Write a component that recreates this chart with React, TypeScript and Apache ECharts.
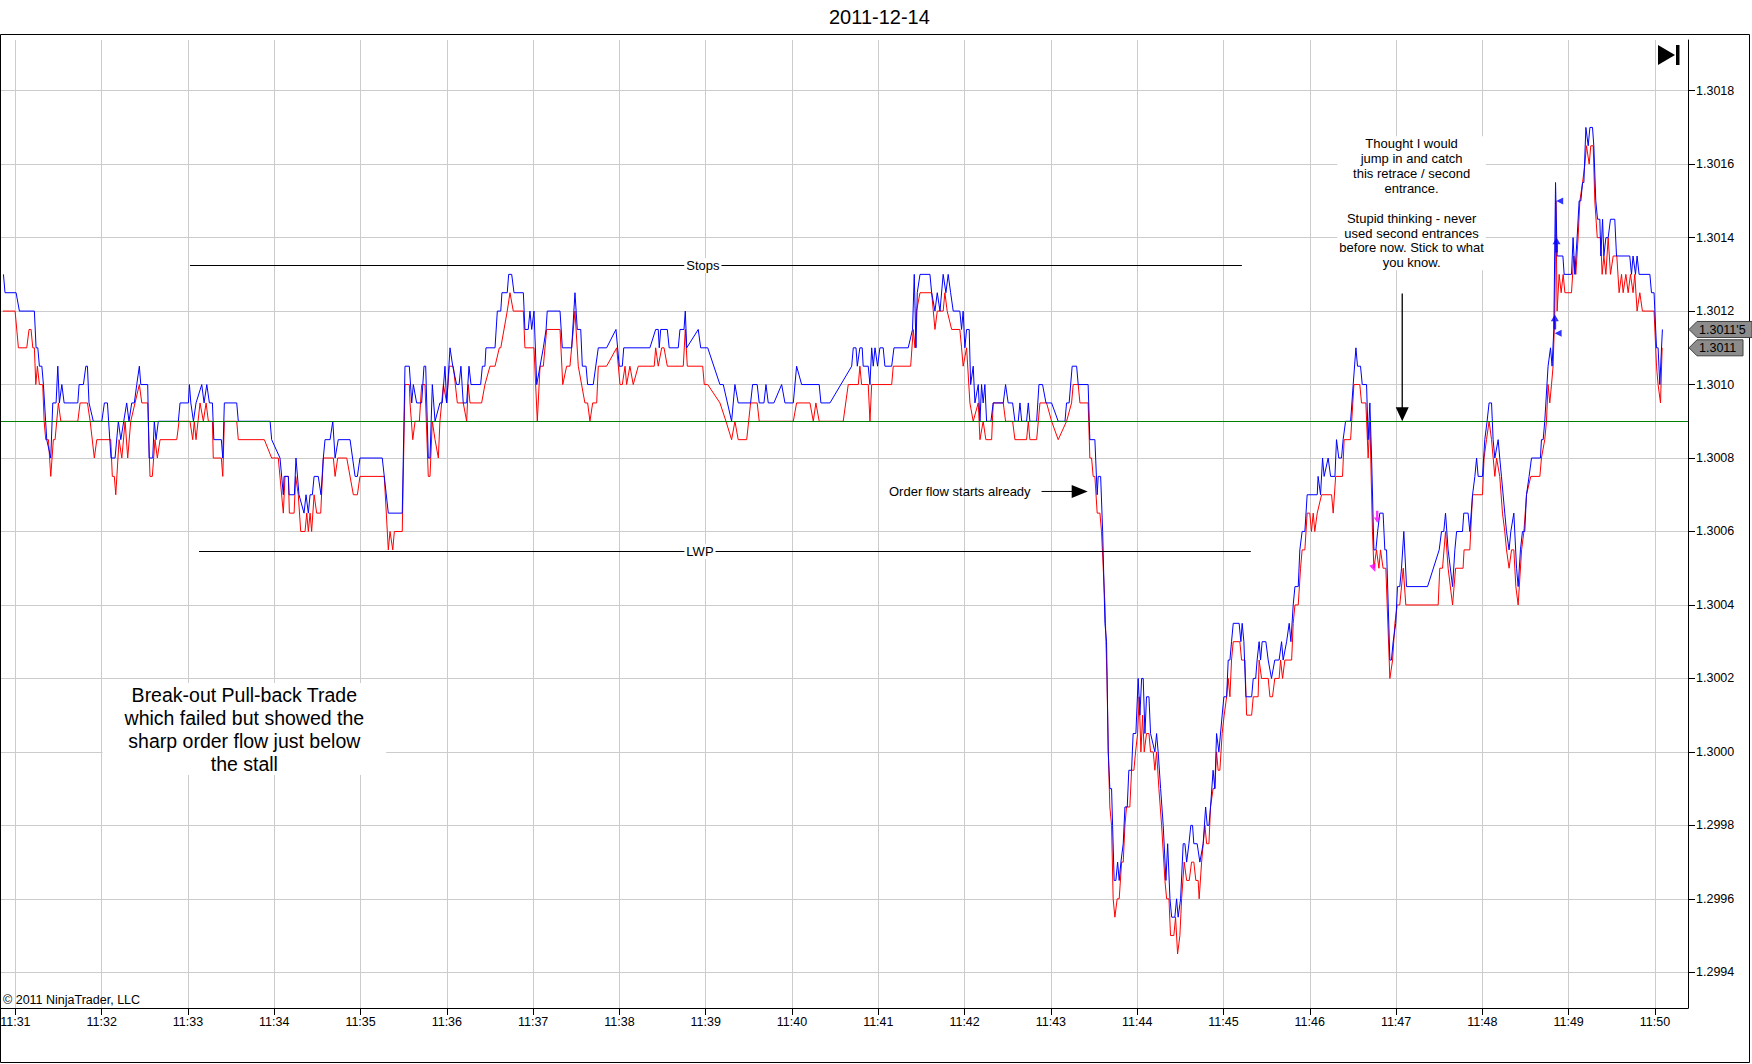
import React, { useEffect, useRef } from "react";
import * as echarts from "echarts";

// ---- axes ----
const X_MIN = -10; // seconds from 11:31:00
const X_MAX = 1163;
const Y_MIN = 1.2993028;
const Y_MAX = 1.301938;
const timeTicks = [0, 60, 120, 180, 240, 300, 360, 420, 480, 540, 600, 660, 720, 780, 840, 900, 960, 1020, 1080, 1140];
const timeLabels = ["11:31", "11:32", "11:33", "11:34", "11:35", "11:36", "11:37", "11:38", "11:39", "11:40", "11:41", "11:42", "11:43", "11:44", "11:45", "11:46", "11:47", "11:48", "11:49", "11:50"];
const priceTicks = [1.2994, 1.2996, 1.2998, 1.3, 1.3002, 1.3004, 1.3006, 1.3008, 1.301, 1.3012, 1.3014, 1.3016, 1.3018];

// ---- ask (blue) [seconds from 11:31:00, price] ----
const askA = [[-8.3,1.3013],[-7.2,1.30125],[0.5,1.30125],[2.8,1.3012],[13.2,1.3012],[14.4,1.3011],[15.6,1.3011],[16.7,1.30105],[18.4,1.30105],[19.5,1.301],[21.8,1.30085],[24.6,1.3008],[26.0,1.30095],[28.3,1.30095],[29.5,1.30105],[30.6,1.30095],[32.3,1.301],[33.9,1.30095],[43.4,1.30095],[44.3,1.301],[47.3,1.301],[49.0,1.30105],[50.1,1.30105],[51.2,1.30095],[54.2,1.3009],[60.1,1.3009],[61.9,1.30095],[64.0,1.30095],[66.5,1.3008],[69.3,1.3008],[71.6,1.3009],[73.3,1.30085],[77.4,1.30095],[79.0,1.3009],[80.9,1.30095],[82.7,1.30095],[84.4,1.301],[86.2,1.30105],[87.2,1.301],[92.0,1.301],[93.0,1.3008],[95.5,1.3008],[96.6,1.3009],[97.8,1.30085],[99.4,1.3009],[113.3,1.3009],[114.5,1.30095],[120.3,1.30095],[121.0,1.301],[122.0,1.30095],[123.8,1.3009],[125.6,1.30095],[129.6,1.301],[131.2,1.30095],[133.1,1.301],[134.9,1.30095],[137.0,1.30095],[138.0,1.30085],[143.2,1.30085],[144.2,1.3008],[145.3,1.30095],[153.9,1.30095],[155.0,1.3009],[177.1,1.3009],[178.2,1.30085],[184.0,1.3008],[186.3,1.3007],[186.8,1.30075],[189.8,1.30075],[190.3,1.3007],[194.0,1.3007],[195.1,1.3008],[197.2,1.3007],[200.7,1.30065],[202.1,1.3007],[203.7,1.30065],[204.9,1.3007],[206.5,1.3007],[207.7,1.30075],[210.6,1.30075],[212.5,1.3007],[214.1,1.3008],[215.3,1.30085],[218.8,1.30085],[220.7,1.3009],[222.3,1.3008],[224.5,1.30085],[232.7,1.30085],[236.2,1.30075],[237.8,1.30075],[239.6,1.3008],[255.1,1.3008],[259.3,1.30065],[269.0,1.30065],[270.9,1.30105],[273.9,1.30105]];
const askB = [[275.6,1.30095],[276.7,1.301],[279.0,1.30095],[282.5,1.30095],[284.1,1.30105],[285.3,1.30105],[287.1,1.3008],[288.3,1.3008],[289.9,1.301],[291.8,1.3009],[295.2,1.30095],[296.8,1.30095],[298.7,1.30105],[299.9,1.30095],[302.2,1.3011],[304.1,1.30105],[306.8,1.301],[308.5,1.301],[309.8,1.30105],[311.4,1.30095],[313.8,1.30095],[315.4,1.30105],[316.8,1.301],[323.5,1.301],[324.7,1.30105],[326.5,1.30105],[327.2,1.3011],[333.5,1.3011],[335.1,1.3012],[337.5,1.3012],[338.3,1.30125],[342.0,1.30125],[343.0,1.3013],[345.1,1.3013],[346.7,1.30125],[353.2,1.30125],[354.3,1.30115],[356.6,1.30115],[357.8,1.3012],[359.0,1.30115],[360.6,1.3012],[362.5,1.301],[364.8,1.30105],[367.1,1.3011],[369.0,1.30115],[369.8,1.3012],[378.7,1.3012],[380.3,1.3011],[386.8,1.3011],[389.1,1.30125],[390.7,1.30115],[393.1,1.30115],[394.2,1.30105],[396.8,1.30105],[397.9,1.301],[401.8,1.301],[405.3,1.3011],[411.1,1.3011],[417.6,1.30115],[419.9,1.30105],[422.0,1.30105],[423.0,1.3011],[441.2,1.3011],[445.2,1.30115],[447.0,1.30115],[447.7,1.3011],[448.7,1.30115],[453.3,1.30115],[454.6,1.3011],[460.9,1.3011],[462.1,1.30115],[464.9,1.30115],[465.8,1.3012],[466.8,1.3011],[474.8,1.30115],[476.5,1.3011],[481.4,1.3011],[489.9,1.301],[492.2,1.301],[498.0,1.3009],[500.3,1.301],[502.6,1.30095],[511.2,1.30095],[512.6,1.301],[515.8,1.301],[517.2,1.30095],[520.5,1.30095],[521.9,1.301],[523.5,1.30095],[527.4,1.30095],[532.8,1.301],[535.1,1.30095],[540.9,1.30095],[543.2,1.30105],[546.7,1.301],[558.9,1.301],[560.1,1.30095]];
const askC = [[566.4,1.30095],[581.5,1.30105],[582.6,1.3011],[584.5,1.3011],[585.4,1.30105],[587.2,1.3011],[588.8,1.3011],[589.5,1.30105],[593.0,1.30105],[594.2,1.301],[595.4,1.3011],[596.5,1.30105],[597.7,1.3011],[599.5,1.30105],[601.1,1.3011],[603.4,1.3011],[604.6,1.30105],[609.3,1.30105],[610.9,1.3011],[620.8,1.3011],[623.8,1.30115],[625.0,1.3013],[626.2,1.3011],[627.1,1.30125],[629.0,1.3013],[635.9,1.3013],[637.1,1.30125],[639.4,1.3012],[641.0,1.30125],[642.9,1.3012],[645.1,1.3013],[647.0,1.30125],[648.6,1.3013],[650.3,1.30125],[652.1,1.3012],[656.7,1.3012],[657.9,1.30115],[659.0,1.3012],[660.2,1.3011],[661.4,1.30115],[663.2,1.30115],[664.2,1.301],[666.0,1.30105],[667.2,1.30095],[669.5,1.301],[670.7,1.3009],[671.8,1.301],[672.9,1.30095],[674.1,1.301],[675.3,1.3009],[678.3,1.3009],[679.9,1.30095],[686.9,1.30095],[688.5,1.301],[690.3,1.30095],[693.4,1.30095],[695.0,1.3009],[697.3,1.3009],[698.5,1.30095],[699.7,1.3009],[703.1,1.3009],[704.3,1.30095],[705.4,1.3009],[710.1,1.3009],[711.7,1.301],[714.2,1.301],[716.6,1.30095],[720.5,1.30095],[725.1,1.3009],[729.8,1.3009],[730.9,1.30095],[732.7,1.30095],[734.8,1.30105],[737.9,1.30105],[739.0,1.301],[745.9,1.301],[747.1,1.30085],[750.6,1.30085],[752.2,1.3007],[752.9,1.30075],[754.6,1.30075],[756.0,1.3006]];
const askD = [[757.6,1.30035],[758.7,1.3003],[759.9,1.3],[761.0,1.2999],[762.2,1.2999],[762.9,1.2998],[764.0,1.29965],[765.2,1.29965],[766.4,1.2997],[767.5,1.29965],[768.7,1.2997],[770.3,1.29975],[771.5,1.29985],[773.1,1.29985],[774.2,1.29995],[776.1,1.29995],[777.2,1.30005],[779.1,1.30005],[780.7,1.3002],[781.9,1.3001],[783.1,1.3002],[784.2,1.3002],[785.4,1.30005],[786.5,1.30015],[788.2,1.30015],[789.3,1.30005],[792.3,1.3],[793.5,1.30005],[794.6,1.3],[796.3,1.2999],[798.1,1.2998],[800.0,1.29965],[801.2,1.29975],[802.8,1.2996],[804.0,1.29955],[806.2,1.29955],[807.4,1.2996],[808.5,1.29955],[810.2,1.2996],[812.0,1.29975],[813.2,1.29975],[814.4,1.2997],[816.0,1.29975],[817.3,1.2998],[818.5,1.2998],[819.4,1.29975],[821.7,1.29975],[823.6,1.2997],[825.9,1.29975],[827.6,1.29985],[828.7,1.2998],[829.9,1.2998],[831.0,1.29985],[832.8,1.29995],[834.0,1.2999],[835.2,1.30005],[836.8,1.3],[839.1,1.3001],[840.3,1.30015],[842.2,1.30015],[843.3,1.30025],[844.5,1.30025],[845.6,1.3003],[846.8,1.30035],[850.9,1.30035],[852.1,1.3003],[853.0,1.30035],[854.2,1.3003],[855.6,1.30015],[859.6,1.30015],[860.7,1.3002],[862.4,1.3002],[863.4,1.30025],[864.8,1.3003],[865.8,1.30025],[866.9,1.3003],[869.5,1.3003],[871.1,1.30025],[873.4,1.3002],[875.7,1.30025],[878.7,1.30025],[880.4,1.3003],[881.5,1.30025],[883.9,1.3003],[885.7,1.30035],[886.9,1.3003],[888.5,1.3004],[889.7,1.30045],[892.0,1.30045],[893.1,1.30055],[894.7,1.3006],[896.6,1.3006]];
const askE = [[898.2,1.3007],[905.2,1.3007],[905.8,1.30075],[907.5,1.3007],[908.9,1.3008],[910.0,1.30075],[912.8,1.3008],[914.5,1.30075],[917.5,1.30075],[918.6,1.30085],[920.2,1.3008],[922.1,1.3008],[923.2,1.30085],[924.9,1.3009],[928.4,1.3009],[930.2,1.301],[932.1,1.3011],[933.2,1.30105],[935.3,1.30105],[936.5,1.301],[939.5,1.301],[940.6,1.30085],[941.8,1.30095],[943.0,1.3008],[944.6,1.30055],[946.0,1.30055],[947.2,1.3006],[948.7,1.30065],[951.0,1.30065],[952.2,1.30055],[953.4,1.30055],[955.7,1.30025],[956.8,1.30025],[958.0,1.3003],[959.8,1.30035],[961.0,1.30045],[962.6,1.30045],[963.8,1.3005],[965.4,1.3006],[967.3,1.30045],[981.9,1.30045],[990.0,1.30055],[991.6,1.3006],[993.2,1.3006],[994.4,1.30065],[996.2,1.30055],[999.3,1.30045],[1000.9,1.30055],[1002.1,1.3006],[1006.2,1.3006],[1007.1,1.30065],[1010.1,1.30065],[1011.3,1.3006],[1013.2,1.3007],[1014.8,1.30075],[1016.0,1.3008],[1017.1,1.30075],[1020.1,1.30075],[1021.7,1.30085],[1023.3,1.3009],[1024.7,1.30095],[1026.4,1.30095],[1027.5,1.30085],[1028.7,1.3008],[1031.0,1.30085],[1032.1,1.3008],[1033.3,1.30075],[1035.6,1.30065],[1036.8,1.3006],[1038.6,1.30055],[1039.8,1.3006],[1041.9,1.30065],[1043.8,1.3005],[1044.9,1.30045],[1046.5,1.30055],[1047.9,1.3006],[1049.5,1.3006],[1050.7,1.3007],[1052.5,1.30075],[1054.2,1.3008],[1060.4,1.3008],[1061.1,1.30085],[1062.3,1.30085],[1063.4,1.3009],[1065.7,1.30105]];
const askF = [[1067.4,1.3011],[1068.5,1.30105],[1069.7,1.30115],[1070.9,1.30155],[1072.0,1.30135],[1076.0,1.30135],[1076.9,1.3013],[1082.0,1.3013],[1083.1,1.3014],[1084.3,1.3013],[1085.9,1.3014],[1087.3,1.3015],[1088.5,1.3015],[1089.7,1.30155],[1090.6,1.30155],[1092.0,1.3017],[1093.6,1.30165],[1094.8,1.3017],[1096.6,1.3017],[1097.5,1.30165],[1098.9,1.3015],[1100.1,1.30145],[1101.7,1.30145],[1102.4,1.30135],[1103.6,1.30145],[1104.5,1.30135],[1105.9,1.3014],[1107.5,1.3014],[1109.1,1.30145],[1112.1,1.30145],[1113.3,1.30135],[1122.5,1.30135],[1123.7,1.3013],[1124.8,1.30135],[1126.5,1.3013],[1127.6,1.30135],[1129.0,1.3013],[1136.5,1.3013],[1137.6,1.30125],[1139.4,1.30125],[1141.1,1.3011],[1142.2,1.3011],[1143.4,1.301],[1145.2,1.30115]];

// ---- bid (red) ----
const bidA = [[-8.8,1.3012],[-0.2,1.3012],[2.1,1.3011],[7.9,1.3011],[9.5,1.30115],[10.9,1.30115],[12.1,1.3011],[13.2,1.3011],[14.2,1.301],[15.3,1.30105],[16.7,1.301],[19.0,1.301],[20.0,1.3009],[21.1,1.30085],[23.0,1.30085],[24.6,1.30075],[26.4,1.30085],[27.6,1.30085],[29.9,1.30095],[31.6,1.3009],[43.4,1.3009],[45.0,1.30095],[50.1,1.30095],[52.0,1.3009],[54.9,1.3008],[56.6,1.30085],[66.3,1.30085],[67.4,1.30075],[68.8,1.30075],[69.8,1.3007],[72.1,1.30085],[74.0,1.3008],[76.3,1.3009],[78.1,1.3008],[80.2,1.3009],[83.2,1.30095],[86.2,1.301],[87.9,1.30095],[92.0,1.30095],[93.6,1.30075],[95.2,1.30075],[97.1,1.30085],[98.7,1.3008],[100.6,1.30085],[112.2,1.30085],[113.8,1.3009],[121.4,1.3009],[123.3,1.30085],[124.4,1.3009],[125.6,1.30085],[128.4,1.30095],[130.7,1.3009],[132.6,1.30095],[134.2,1.3009],[137.0,1.3009],[137.6,1.3008],[143.2,1.3008],[144.2,1.30075],[145.3,1.3009],[153.9,1.3009],[155.0,1.30085],[173.1,1.30085],[178.2,1.3008],[182.8,1.3008],[186.3,1.30065],[187.5,1.30075],[189.8,1.30075],[190.5,1.30065],[193.8,1.30065],[194.9,1.30075],[196.7,1.3007],[198.4,1.3006],[201.4,1.3006],[202.6,1.30065],[203.7,1.3006],[204.9,1.30065],[206.0,1.3006],[207.7,1.3007],[209.5,1.30065],[212.3,1.30065],[214.1,1.3008],[221.1,1.3008],[222.3,1.30075],[224.1,1.3008],[230.4,1.3008],[235.0,1.3007],[237.8,1.3007],[239.6,1.30075],[256.5,1.30075],[259.3,1.30055],[260.5,1.3006],[262.4,1.30055],[263.5,1.3006],[269.0,1.3006],[270.9,1.301],[273.9,1.301]];
const bidB = [[274.4,1.30095],[276.3,1.30085],[277.9,1.3009],[280.9,1.3009],[282.5,1.301],[284.8,1.301],[287.1,1.30075],[288.3,1.30075],[289.9,1.3009],[291.8,1.30085],[294.1,1.3008],[295.2,1.3009],[297.6,1.301],[299.9,1.30095],[301.7,1.30105],[304.5,1.30105],[307.3,1.30095],[311.4,1.30095],[313.8,1.3009],[314.9,1.301],[316.1,1.30095],[324.2,1.30095],[326.5,1.301],[330.0,1.30105],[333.5,1.30105],[336.5,1.3011],[337.5,1.3011],[342.0,1.3012],[343.9,1.30125],[346.2,1.3012],[353.2,1.3012],[354.3,1.3011],[360.6,1.3011],[362.9,1.3009],[364.8,1.30105],[367.1,1.30105],[369.4,1.30115],[378.7,1.30115],[380.6,1.301],[383.3,1.30105],[385.6,1.30105],[389.1,1.3012],[391.4,1.30105],[396.0,1.30095],[397.9,1.30095],[399.5,1.3009],[401.4,1.30095],[404.2,1.30095],[405.3,1.30105],[411.1,1.30105],[418.1,1.3011],[420.4,1.301],[422.0,1.301],[423.9,1.30105],[425.0,1.301],[427.3,1.30105],[429.6,1.301],[433.1,1.30105],[444.2,1.30105],[445.2,1.3011],[447.0,1.30105],[449.4,1.3011],[451.0,1.3011],[453.3,1.30105],[464.4,1.30105],[465.8,1.30115],[467.2,1.30105],[477.9,1.30105],[479.0,1.301],[481.4,1.301],[489.9,1.30095],[494.1,1.3009],[498.0,1.30085],[500.3,1.3009],[502.6,1.30085],[508.5,1.30085],[511.2,1.30095],[515.8,1.30095],[517.2,1.3009],[540.9,1.3009],[543.2,1.30095],[552.5,1.30095],[554.8,1.3009],[556.6,1.30095],[558.9,1.3009]];
const bidC = [[575.6,1.3009],[579.1,1.301],[586.1,1.301],[587.2,1.30105],[588.4,1.301],[593.0,1.301],[594.2,1.3009],[595.4,1.301],[609.3,1.301],[610.4,1.30105],[622.5,1.30105],[624.3,1.30115],[625.5,1.3011],[626.6,1.3012],[629.0,1.30125],[637.1,1.30125],[639.4,1.30115],[641.0,1.3012],[645.1,1.3012],[646.3,1.30125],[647.9,1.3012],[651.0,1.30115],[656.7,1.30115],[657.9,1.3011],[659.0,1.30105],[661.4,1.3011],[663.7,1.30095],[666.0,1.3009],[669.5,1.30095],[670.7,1.30085],[672.9,1.3009],[674.8,1.30085],[678.8,1.30085],[679.9,1.30095],[686.9,1.30095],[688.5,1.3009],[693.4,1.3009],[695.0,1.30085],[703.1,1.30085],[704.3,1.3009],[705.4,1.30085],[710.1,1.30085],[712.4,1.30095],[717.0,1.30095],[720.5,1.3009],[725.1,1.30085],[730.9,1.3009],[734.4,1.30095],[735.5,1.301],[739.0,1.301],[740.2,1.30095],[745.9,1.30095],[747.1,1.3008],[748.3,1.3008],[749.4,1.30075],[750.6,1.30075],[752.2,1.30065],[754.1,1.30065],[755.2,1.3006]];
const bidD = [[757.6,1.3004],[759.0,1.3002],[759.9,1.3],[761.0,1.29985],[762.2,1.2998],[763.3,1.2996],[764.5,1.29955],[766.1,1.2996],[767.5,1.2996],[769.2,1.2997],[770.3,1.2997],[771.5,1.2998],[772.6,1.29985],[774.9,1.29985],[776.1,1.29995],[777.7,1.29995],[778.9,1.3],[780.3,1.30005],[781.4,1.30015],[782.6,1.3],[783.8,1.3001],[784.9,1.3],[786.5,1.30005],[788.2,1.30005],[789.3,1.3],[791.2,1.3],[792.3,1.29995],[793.5,1.3],[795.1,1.2999],[797.0,1.2998],[799.3,1.29965],[800.5,1.2996],[802.1,1.2996],[803.2,1.2995],[805.5,1.2995],[806.7,1.29955],[808.1,1.29945],[809.7,1.2995],[810.9,1.2996],[812.7,1.2997],[814.4,1.29965],[816.2,1.29965],[817.8,1.2997],[819.4,1.2997],[820.8,1.29965],[822.4,1.29965],[823.1,1.2996],[824.8,1.2997],[825.9,1.29975],[827.1,1.2998],[828.3,1.29975],[829.9,1.29975],[831.0,1.29985],[832.8,1.2999],[834.0,1.2999],[835.2,1.3],[836.3,1.29995],[837.5,1.29995],[839.1,1.30005],[840.5,1.3001],[842.2,1.30015],[843.3,1.3002],[844.5,1.30015],[845.6,1.30025],[846.8,1.3003],[851.4,1.3003],[852.6,1.30025],[854.9,1.30025],[856.1,1.3001],[859.6,1.3001],[860.7,1.30015],[864.1,1.30015],[864.8,1.30025],[866.5,1.3002],[871.1,1.3002],[872.3,1.30015],[874.1,1.30015],[875.7,1.3002],[878.7,1.3002],[879.7,1.30025],[881.1,1.3002],[882.7,1.30025],[887.4,1.30025],[888.5,1.30035],[889.7,1.3004],[892.0,1.3004],[893.6,1.3005],[894.7,1.30055]];
const bidE = [[896.6,1.30055],[898.2,1.30065],[900.0,1.30065],[901.2,1.3006],[902.4,1.30065],[903.5,1.3006],[905.2,1.30065],[908.2,1.3007],[915.2,1.3007],[916.3,1.30065],[918.0,1.30075],[922.8,1.30075],[923.9,1.30085],[928.4,1.30085],[930.7,1.301],[934.8,1.301],[936.0,1.30095],[939.0,1.30095],[940.6,1.3008],[941.8,1.3009],[943.6,1.3006],[944.6,1.3005],[946.4,1.30055],[948.1,1.3005],[949.2,1.30055],[951.0,1.3005],[952.9,1.3005],[955.7,1.3002],[957.6,1.30025],[959.2,1.30035],[960.8,1.3004],[962.6,1.3004],[965.0,1.3005],[966.8,1.3004],[989.3,1.3004],[990.4,1.3005],[992.3,1.3005],[994.4,1.3006],[996.2,1.3005],[999.3,1.3004],[1001.4,1.3005],[1006.6,1.3005],[1007.3,1.30055],[1011.3,1.30055],[1013.2,1.3007],[1020.1,1.3007],[1021.2,1.3008],[1022.9,1.30085],[1024.7,1.3009],[1026.4,1.30085],[1028.7,1.30075],[1029.9,1.3008],[1032.1,1.30075],[1034.0,1.30065],[1035.6,1.3006],[1036.8,1.30055],[1038.6,1.3005],[1040.3,1.30055],[1041.9,1.30055],[1043.3,1.30045],[1044.9,1.3004],[1047.3,1.30055],[1048.9,1.3006],[1050.7,1.3007],[1053.7,1.30075],[1060.0,1.30075],[1061.1,1.3008],[1063.4,1.30085],[1064.6,1.3009],[1065.7,1.301],[1066.9,1.30095],[1068.1,1.301]];
const bidF = [[1069.2,1.30105],[1070.4,1.3012],[1071.1,1.3015],[1072.0,1.3012],[1073.4,1.3013],[1074.8,1.30125],[1076.2,1.3013],[1077.4,1.30125],[1082.0,1.30125],[1083.6,1.30135],[1085.0,1.3013],[1086.6,1.3014],[1087.8,1.3015],[1089.7,1.30155],[1091.3,1.3016],[1092.4,1.30165],[1094.3,1.3016],[1095.4,1.30165],[1097.1,1.30165],[1098.2,1.3015],[1099.9,1.3014],[1102.2,1.3014],[1103.3,1.3013],[1104.5,1.30135],[1105.9,1.3013],[1107.5,1.3014],[1109.1,1.3013],[1111.0,1.30135],[1113.5,1.30135],[1115.1,1.30125],[1116.8,1.3013],[1117.9,1.30125],[1119.8,1.3013],[1121.4,1.30125],[1123.0,1.3013],[1124.8,1.30125],[1126.0,1.3013],[1127.6,1.3012],[1129.5,1.30125],[1131.3,1.3012],[1139.4,1.3012],[1141.1,1.30105],[1142.2,1.301],[1143.9,1.30095],[1145.0,1.3011]];

// ---- execution markers ----
const sellArrows = [[946.9, 1.30064]];
const sellTriangles = [[944.6, 1.3005]];
const buyArrows = [[1071.6, 1.30138], [1070.4, 1.30117]];
const buyTriangles = [[1073.8, 1.3015], [1072.7, 1.30114]];

// ---- drawn levels ----
const refLevel = 1.3009;
const stopsLevel = { from: 121.4, to: 852.8, price: 1.301324, labelAt: 478.0 };
const lwpLevel = { from: 127.7, to: 859.0, price: 1.300545, labelAt: 476.0 };
const lastAsk = { price: 1.30115, label: "1.3011'5" };
const lastBid = { price: 1.3011, label: "1.3011" };

const noteThought = "Thought I would\njump in and catch\nthis retrace / second\nentrance.\n\nStupid thinking - never\nused second entrances\nbefore now. Stick to what\nyou know.";
const noteTrade = "Break-out Pull-back Trade\nwhich failed but showed the\nsharp order flow just below\nthe stall";

const FONT = "'Liberation Sans', Arial, sans-serif";
const UP_ARROW = "path://M3,0 L6,4.5 L4,4.5 L4,10 L2,10 L2,4.5 L0,4.5 Z";
const DOWN_ARROW = "path://M2,0 L4,0 L4,5.5 L6,5.5 L3,10 L0,5.5 L2,5.5 Z";

export default function App() {
  const ref = useRef<HTMLDivElement>(null);
  useEffect(() => {
    document.body.style.margin = "0";
    const chart = echarts.init(ref.current as HTMLDivElement, null, { renderer: "svg" });
    const ask = [...askA, ...askB, ...askC, ...askD, ...askE, ...askF];
    const bid = [...bidA, ...bidB, ...bidC, ...bidD, ...bidE, ...bidF];
    const axisFont = { color: "#000", fontSize: 12.5, fontFamily: FONT };
    const solid = (color: string) => ({ color, width: 1, type: "solid" });
    chart.setOption({
      animation: false,
      backgroundColor: "#ffffff",
      textStyle: { fontFamily: FONT },
      title: {
        text: "2011-12-14",
        left: 824,
        top: 2,
        textStyle: { fontSize: 20, fontWeight: "normal", color: "#000", fontFamily: FONT },
      },
      grid: { left: 1, right: 64, top: 40, bottom: 56, containLabel: false, outerBoundsMode: "none" },
      xAxis: {
        type: "value",
        min: X_MIN,
        max: X_MAX,
        axisLine: { show: true, onZero: false, lineStyle: { color: "#000", width: 1 } },
        axisTick: { show: true, length: 7, customValues: timeTicks, lineStyle: { color: "#000" } },
        axisLabel: {
          ...axisFont,
          margin: 7,
          customValues: timeTicks,
          hideOverlap: false,
          formatter: (v: number) => timeLabels[Math.round(v / 60)] ?? "",
        },
        splitLine: { show: true, lineStyle: { color: "#cccccc", width: 1 } },
      },
      yAxis: {
        type: "value",
        position: "right",
        min: Y_MIN,
        max: Y_MAX,
        axisLine: { show: true, onZero: false, lineStyle: { color: "#000", width: 1 } },
        axisTick: { show: true, length: 7, customValues: priceTicks, lineStyle: { color: "#000" } },
        axisLabel: {
          ...axisFont,
          margin: 8,
          customValues: priceTicks,
          formatter: (v: number) => v.toFixed(4),
        },
        splitLine: { show: true, lineStyle: { color: "#cccccc", width: 1 } },
      },
      series: [
        {
          type: "line",
          name: "Bid",
          data: bid,
          showSymbol: false,
          symbol: "none",
          silent: true,
          z: 2,
          lineStyle: { color: "#ff0000", width: 1 },
          itemStyle: { color: "#ff0000" },
        },
        {
          type: "line",
          name: "Ask",
          data: ask,
          showSymbol: false,
          symbol: "none",
          silent: true,
          z: 3,
          lineStyle: { color: "#0000ff", width: 1 },
          itemStyle: { color: "#0000ff" },
        },
        {
          type: "line",
          name: "levels",
          data: [],
          silent: true,
          z: 5,
          markLine: {
            silent: true,
            precision: 6,
            symbol: ["none", "none"],
            label: { show: false },
            emphasis: { disabled: true },
            animation: false,
            data: [
              [
                { coord: [X_MIN, refLevel], lineStyle: solid("#008000") },
                { coord: [X_MAX, refLevel] },
              ],
              [
                { coord: [stopsLevel.from, stopsLevel.price], lineStyle: solid("#000") },
                { coord: [stopsLevel.to, stopsLevel.price] },
              ],
              [
                { coord: [lwpLevel.from, lwpLevel.price], lineStyle: solid("#000") },
                { coord: [lwpLevel.to, lwpLevel.price] },
              ],
            ],
          },
        },
        {
          type: "scatter",
          data: sellArrows,
          symbol: DOWN_ARROW,
          symbolSize: [7, 12],
          itemStyle: { color: "#ff00ff" },
          silent: true,
          z: 6,
        },
        {
          type: "scatter",
          data: sellTriangles,
          symbol: "triangle",
          symbolRotate: 200,
          symbolSize: [7, 8],
          itemStyle: { color: "#ff00ff" },
          silent: true,
          z: 6,
        },
        {
          type: "scatter",
          data: buyArrows,
          symbol: UP_ARROW,
          symbolSize: [8, 15],
          itemStyle: { color: "#0000ff" },
          silent: true,
          z: 6,
        },
        {
          type: "scatter",
          data: buyTriangles,
          symbol: "triangle",
          symbolRotate: 90,
          symbolSize: [7, 7],
          itemStyle: { color: "#0000ff" },
          silent: true,
          z: 6,
        },
      ],
    });

    const toPx = (t: number, v: number) => chart.convertToPixel({ gridIndex: 0 }, [t, v]) as number[];
    const els: any[] = [];
    // outer frame
    els.push({ type: "rect", silent: true, z: 50, shape: { x: 0.5, y: 34.5, width: 1749, height: 1028 }, style: { fill: "none", stroke: "#000", lineWidth: 1 } });
    // copyright
    els.push({ type: "text", silent: true, z: 50, x: 3, y: 1000, style: { text: "© 2011 NinjaTrader, LLC", fill: "#000", fontSize: 12.5, fontFamily: FONT, align: "left", verticalAlign: "middle" } });
    // go-to-end icon
    els.push({ type: "polygon", silent: true, z: 50, shape: { points: [[1658, 45], [1675, 55], [1658, 65]] }, style: { fill: "#000" } });
    els.push({ type: "rect", silent: true, z: 50, shape: { x: 1676, y: 45, width: 3.5, height: 20 }, style: { fill: "#000" } });
    // level labels
    const sp = toPx(stopsLevel.labelAt, stopsLevel.price);
    els.push({ type: "text", silent: true, z: 60, x: sp[0], y: sp[1], style: { text: "Stops", fill: "#000", fontSize: 13, fontFamily: FONT, align: "center", verticalAlign: "middle", backgroundColor: "#fff", padding: [1, 2] } });
    const lp = toPx(lwpLevel.labelAt, lwpLevel.price);
    els.push({ type: "text", silent: true, z: 60, x: lp[0], y: lp[1], style: { text: "LWP", fill: "#000", fontSize: 13, fontFamily: FONT, align: "center", verticalAlign: "middle", backgroundColor: "#fff", padding: [1, 2] } });
    // order flow annotation
    const ofPrice = 1.300709;
    const ofText = toPx(705.9, ofPrice);
    els.push({ type: "text", silent: true, z: 60, x: ofText[0], y: ofText[1], style: { text: "Order flow starts already", fill: "#000", fontSize: 13, fontFamily: FONT, align: "right", verticalAlign: "middle" } });
    const ofStart = toPx(713.5, ofPrice);
    const ofTip = toPx(745.6, ofPrice);
    els.push({ type: "line", silent: true, z: 60, shape: { x1: ofStart[0], y1: ofStart[1], x2: ofTip[0] - 14, y2: ofTip[1] }, style: { stroke: "#000", lineWidth: 1 } });
    els.push({ type: "polygon", silent: true, z: 60, shape: { points: [[ofTip[0], ofTip[1]], [ofTip[0] - 16, ofTip[1] - 6.5], [ofTip[0] - 16, ofTip[1] + 6.5]] }, style: { fill: "#000" } });
    // vertical arrow
    const vaTop = toPx(964.3, 1.301248);
    const vaTip = toPx(964.3, refLevel);
    els.push({ type: "line", silent: true, z: 60, shape: { x1: vaTop[0], y1: vaTop[1], x2: vaTip[0], y2: vaTip[1] - 12 }, style: { stroke: "#000", lineWidth: 1.3 } });
    els.push({ type: "polygon", silent: true, z: 60, shape: { points: [[vaTip[0], vaTip[1]], [vaTip[0] - 6.5, vaTip[1] - 14], [vaTip[0] + 6.5, vaTip[1] - 14]] }, style: { fill: "#000" } });
    // notes
    const tp = toPx(970.8, 1.301676);
    els.push({ type: "text", silent: true, z: 55, x: tp[0], y: tp[1], style: { text: noteThought, fill: "#000", fontSize: 13, fontFamily: FONT, align: "center", verticalAlign: "top", lineHeight: 14.9, backgroundColor: "#fff", padding: [0, 2] } });
    const bp = toPx(159.2, 1.3001874);
    els.push({ type: "text", silent: true, z: 55, x: bp[0], y: bp[1], style: { text: noteTrade, fill: "#000", fontSize: 19.5, fontFamily: FONT, align: "center", verticalAlign: "top", lineHeight: 23, backgroundColor: "#fff", padding: [0, 22] } });
    // last price tags
    [[lastAsk, 55], [lastBid, 46]].forEach(([tag, w]: any) => {
      const p = toPx(X_MAX, tag.price);
      const x0 = p[0] + 1;
      const y = p[1];
      els.push({ type: "polygon", silent: true, z: 60, shape: { points: [[x0, y], [x0 + 8, y - 8], [x0 + 8 + w, y - 8], [x0 + 8 + w, y + 8], [x0 + 8, y + 8]] }, style: { fill: "#8c8c8c", stroke: "#404040", lineWidth: 1 } });
      els.push({ type: "text", silent: true, z: 61, x: x0 + 10, y: y + 0.5, style: { text: tag.label, fill: "#000", fontSize: 12.5, fontFamily: FONT, align: "left", verticalAlign: "middle" } });
    });
    chart.setOption({ graphic: els });
    return () => chart.dispose();
  }, []);
  return <div ref={ref} style={{ width: 1752, height: 1064 }} />;
}
